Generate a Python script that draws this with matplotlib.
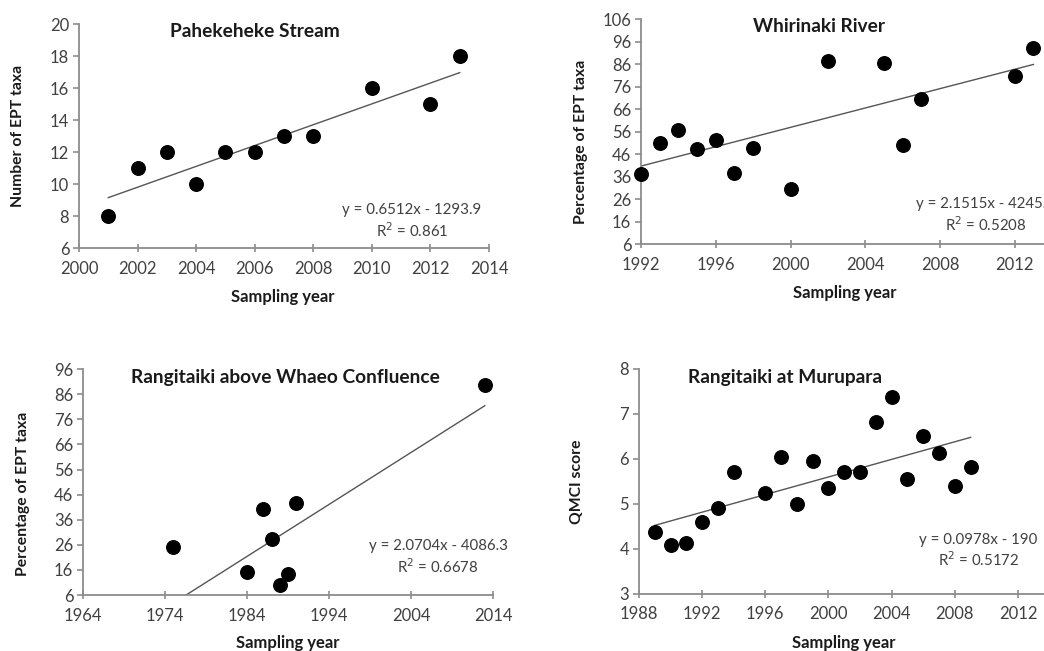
import numpy as np
import matplotlib
matplotlib.use("Agg")
import matplotlib.pyplot as plt

plt.rcParams['font.family'] = ['Lato', 'DejaVu Sans']

# --- data --- #
# Pahekeheke Stream
pah_years = [2001, 2002, 2003, 2004, 2005, 2006, 2007, 2008, 2010, 2012, 2013]
pah_ept = [8, 11, 12, 10, 12, 12, 13, 13, 16, 15, 18]
pah_fit = (0.6512, -1293.9)
pah_r2 = 0.861

# Whirinaki River
whi_years = [1992, 1993, 1994, 1995, 1996, 1997, 1998, 2000, 2002, 2005, 2006, 2007, 2012, 2013]
whi_pct = [37, 51, 56.7, 48.3, 52.1, 37.5, 48.7, 30.3, 87.2, 86.7, 49.9, 70.5, 80.8, 93.1]
whi_fit = (2.1515, -4245.1)
whi_r2 = 0.5208

# Rangitaiki above Whaeo Confluence
wha_years = [1975, 1984, 1986, 1987, 1988, 1989, 1990, 2013]
wha_pct = [25.0, 15.0, 40.4, 28.2, 10.1, 14.4, 42.8, 89.8]
wha_fit = (2.0704, -4086.3)
wha_r2 = 0.6678

# Rangitaiki at Murupara
mur_years = [1989, 1990, 1991, 1992, 1993, 1994, 1996, 1997, 1998, 1999,
             2000, 2001, 2002, 2003, 2004, 2005, 2006, 2007, 2008, 2009]
mur_qmci = [4.38, 4.08, 4.13, 4.60, 4.92, 5.72, 5.24, 6.04, 5.01, 5.96,
            5.36, 5.72, 5.71, 6.82, 7.38, 5.56, 6.50, 6.14, 5.40, 5.82]
mur_fit = (0.0978, -190)
mur_r2 = 0.5172

SPINE = '#8c8c8c'
TEXT = '#404040'


def panel(rect, x, y, fit, r2, xlim, xticks, ylim, yticks, title, title_pos,
          ylabel, ylabel_pos, xlabel_pos, eq_pos, eq_text):
    ax = fig.add_axes(rect)
    ax.scatter(x, y, s=95, color='black', zorder=3, clip_on=False)
    # linear trendline across the sampled years
    xs = np.array([min(x), max(x)])
    ax.plot(xs, fit[0] * xs + fit[1], color='#555555', lw=1.0, zorder=2)
    ax.set_xlim(*xlim)
    ax.set_ylim(*ylim)
    ax.set_xticks(xticks)
    ax.set_yticks(yticks)
    for s in ['top', 'right']:
        ax.spines[s].set_visible(False)
    for s in ['left', 'bottom']:
        ax.spines[s].set_color(SPINE)
        ax.spines[s].set_linewidth(1.3)
    ax.tick_params(axis='x', direction='inout', length=6, width=1.2, color=SPINE,
                   labelsize=12, labelcolor=TEXT, pad=6)
    ax.tick_params(axis='y', direction='out', length=4, width=1.2, color=SPINE,
                   labelsize=12, labelcolor=TEXT, pad=3)
    ax.text(title_pos[0], title_pos[1], title, transform=ax.transAxes,
            ha='center', va='center', fontsize=13.8, fontweight='bold', color='#1a1a1a')
    ax.set_ylabel(ylabel, fontsize=11.3, fontweight='bold', va='center', color='#1a1a1a')
    ax.yaxis.set_label_coords(*ylabel_pos)
    ax.set_xlabel('Sampling year', fontsize=12, fontweight='bold', va='center', color='#1a1a1a')
    ax.xaxis.set_label_coords(*xlabel_pos)
    ax.text(eq_pos[0], eq_pos[1], eq_text + '\nR$^2$ = ' + str(r2),
            transform=ax.transAxes, ha='center', va='center', fontsize=10.8,
            color=TEXT, linespacing=1.25)
    return ax


fig = plt.figure(figsize=(10.44, 6.51), dpi=100)

panel([0.0757, 0.619, 0.3927, 0.344], pah_years, pah_ept, pah_fit, pah_r2,
      (2000, 2014), range(2000, 2015, 2), (6, 20), range(6, 21, 2),
      'Pahekeheke Stream', (0.429, 0.969),
      'Number of EPT taxa', (-0.149, 0.5), (0.498, -0.219),
      (0.812, 0.118), 'y = 0.6512x - 1293.9')

# right part of this panel runs past the page edge
panel([0.614, 0.625, 0.4296, 0.3456], whi_years, whi_pct, whi_fit, whi_r2,
      (1992, 2016), range(1992, 2013, 4), (6, 106), range(6, 107, 10),
      'Whirinaki River', (0.397, 0.969),
      'Percentage of EPT taxa', (-0.134, 0.453), (0.455, -0.218),
      (0.769, 0.127), 'y = 2.1515x - 4245.1')

panel([0.0795, 0.086, 0.3927, 0.347], wha_years, wha_pct, wha_fit, wha_r2,
      (1964, 2014), range(1964, 2015, 10), (6, 96), range(6, 97, 10),
      'Rangitaiki above Whaeo Confluence', (0.493, 0.965),
      'Percentage of EPT taxa', (-0.146, 0.447), (0.5, -0.212),
      (0.866, 0.166), 'y = 2.0704x - 4086.3')

panel([0.612, 0.0876, 0.4236, 0.3456], mur_years, mur_qmci, mur_fit, mur_r2,
      (1988, 2016), range(1988, 2013, 4), (3, 8), range(3, 9),
      'Rangitaiki at Murupara', (0.330, 0.964),
      'QMCI score', (-0.14, 0.498), (0.464, -0.218),
      (0.767, 0.191), 'y = 0.0978x - 190')

fig.savefig('out.png', dpi=100)
